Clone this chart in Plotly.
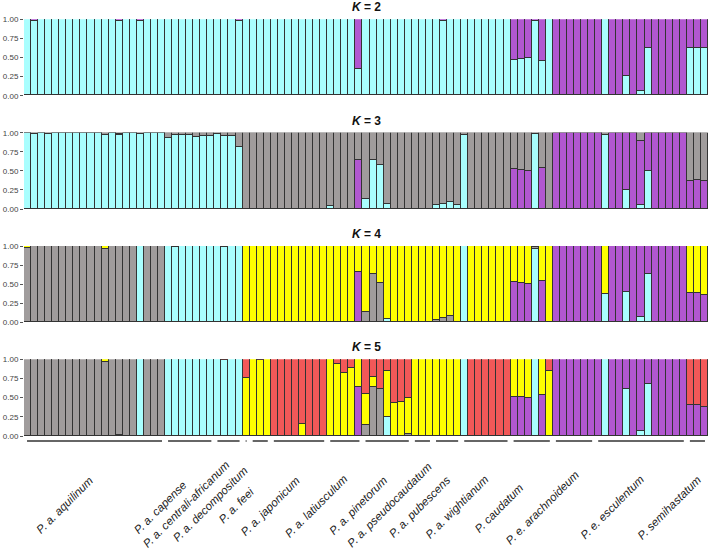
import plotly.graph_objects as go

# ---------------- data ----------------
N = 97
individuals = list(range(N))

group_names = ["P. a. aquilinum", "P. a. capense", "P. a. centrali-africanum", "P. a. decompositum",
               "P. a. feei", "P. a. japonicum", "P. a. latiusculum", "P. a. pinetorum",
               "P. a. pseudocaudatum", "P. a. pubescens", "P. a. wightianum", "P. caudatum",
               "P. e. arachnoideum", "P. e. esculentum", "P. semihastatum"]
group_sizes = [20, 7, 4, 1, 3, 8, 5, 7, 3, 4, 7, 6, 6, 13, 3]

# K = 2  (cyan = remainder)
K2_purple = [0, .02, 0, 0, 0, 0, 0, 0, 0, 0,
             0, 0, 0, .02, 0, 0, .03, 0, 0, 0,
             0, 0, 0, 0, 0, 0, 0, 0, 0, 0,
             .02, 0, 0, 0, 0, 0, 0, 0, 0, 0,
             0, 0, 0, 0, 0, 0, 0, .65, 0, 0,
             0, 0, 0, 0, 0, 0, 0, 0, 0, .02,
             0, 0, 0, 0, 0, 0, 0, 0, 0, .54,
             .53, .515, .02, .555, 0, 1, 1, 1, 1, 1,
             1, 1, 0, 1, 1, .75, 1, .94, .38, 1,
             1, 1, 1, 1, .385, .385, .375]

# K = 3  (gray = remainder)
K3_cyan = [1, .99, 1, .99, 1, 1, 1, 1, 1, 1,
           1, .98, 1, .97, 1, 1, .99, 1, 1, 1,
           .94, .97, .97, .98, .95, .96, .955, .99, .955, .96,
           .82, .01, 0, 0, 0, 0, 0, 0, 0, 0,
           0, 0, 0, .04, 0, 0, 0, 0, .13, .65,
           .58, .07, 0, 0, 0, 0, 0, 0, .06, .07,
           .09, .05, .98, 0, 0, 0, 0, 0, 0, 0,
           0, 0, .99, 0, 0, 0, 0, 0, 0, 0,
           0, 0, .98, 0, 0, .25, 0, .06, .5, 0,
           0, 0, 0, 0, 0, 0, 0]
K3_purple = [0, 0, 0, 0, 0, 0, 0, 0, 0, 0,
             0, 0, 0, .02, 0, 0, 0, 0, 0, 0,
             0, 0, 0, 0, 0, 0, 0, 0, 0, 0,
             0, 0, 0, 0, 0, 0, 0, 0, 0, 0,
             0, 0, 0, 0, 0, 0, 0, .65, 0, 0,
             0, 0, 0, 0, 0, 0, 0, 0, 0, 0,
             0, 0, 0, 0, 0, 0, 0, 0, 0, .53,
             .52, .505, 0, .545, 0, 1, 1, 1, 1, 1,
             1, 1, 0, 1, 1, .75, 1, .835, .5, 1,
             1, 1, 1, 1, .375, .39, .37]

# K = 4  (yellow = remainder)
K4_cyan = [0, 0, 0, 0, 0, 0, 0, 0, 0, 0,
           0, 0, 0, 0, 0, 0, 1, 0, 0, 0,
           1, .99, 1, 1, 1, 1, 1, 1, .99, 1,
           1, 0, 0, 0, 0, 0, 0, 0, 0, 0,
           0, 0, 0, 0, 0, 0, 0, 0, 0, 0,
           0, .04, 0, 0, 0, 0, 0, 0, 0, 0,
           0, 0, 1, 0, 0, 0, 0, 0, 0, 0,
           0, 0, .965, 0, 0, 0, 0, 0, 0, 0,
           0, 0, .37, 0, 0, .40, 0, .065, .63, 0,
           0, 0, 0, 0, 0, 0, 0]
K4_purple = [0, .01, 0, 0, 0, 0, 0, 0, 0, 0,
             0, 0, 0, .01, 0, 0, 0, 0, 0, 0,
             0, 0, 0, 0, 0, 0, 0, 0, 0, 0,
             0, 0, 0, 0, 0, 0, 0, 0, 0, 0,
             0, 0, 0, 0, 0, 0, 0, .66, 0, 0,
             0, 0, 0, 0, 0, 0, 0, 0, 0, 0,
             0, 0, 0, 0, 0, 0, 0, 0, 0, .53,
             .52, .50, 0, .54, 0, 1, 1, 1, 1, 1,
             1, 1, 0, 1, 1, .60, 1, .935, .37, 1,
             1, 1, 1, 1, .39, .39, .36]
K4_gray = [.98, .99, 1, 1, 1, 1, 1, 1, 1, 1,
           1, .96, 1, .99, 1, 1, 0, 1, 1, 1,
           0, 0, 0, 0, 0, 0, 0, 0, 0, 0,
           0, 0, 0, 0, 0, 0, 0, 0, 0, 0,
           0, 0, 0, 0, 0, 0, 0, 0, .13, .63,
           .52, 0, 0, 0, 0, 0, 0, 0, .03, .06,
           .08, .01, 0, 0, 0, 0, 0, 0, 0, 0,
           0, 0, .025, 0, 0, 0, 0, 0, 0, 0,
           0, 0, 0, 0, 0, 0, 0, 0, 0, 0,
           0, 0, 0, 0, 0, 0, 0]

# K = 5  (red = remainder)
K5_cyan = [0, 0, 0, 0, 0, 0, 0, 0, 0, 0,
           0, 0, 0, 0, 0, 0, 1, 0, 0, 0,
           1, 1, 1, 1, 1, 1, 1, 1, .99, 1,
           1, 0, 0, 0, 0, 0, 0, 0, 0, 0,
           0, 0, 0, 0, 0, 0, 0, 0, 0, 0,
           0, .25, 0, 0, 0, 0, 0, 0, 0, 0,
           0, 0, 1, 0, 0, 0, 0, 0, 0, 0,
           0, 0, 1, 0, 0, 0, 0, 0, 0, 0,
           0, 0, 1, 0, 0, .61, 0, .065, .67, 0,
           0, 0, 0, 0, 0, 0, 0]
K5_purple = [0, 0, 0, 0, 0, 0, 0, 0, 0, 0,
             0, 0, 0, .01, 0, 0, 0, 0, 0, 0,
             0, 0, 0, 0, 0, 0, 0, 0, 0, 0,
             0, 0, 0, 0, 0, 0, 0, 0, 0, 0,
             0, 0, 0, 0, 0, 0, 0, .635, 0, 0,
             0, 0, 0, 0, 0, 0, 0, 0, 0, 0,
             0, 0, 0, 0, 0, 0, 0, 0, 0, .51,
             .50, .49, 0, .53, 0, 1, 1, 1, 1, 1,
             1, 1, 0, 1, 1, .39, 1, .935, .33, 1,
             1, 1, 1, 1, .40, .395, .38]
K5_gray = [1, 1, 1, 1, 1, 1, 1, 1, 1, 1,
           1, .96, 1, .99, 1, 1, 0, 1, 1, 1,
           0, 0, 0, 0, 0, 0, 0, 0, 0, 0,
           0, 0, 0, 0, 0, 0, 0, 0, 0, 0,
           0, 0, 0, 0, 0, 0, 0, 0, .14, .64,
           .61, 0, 0, 0, .02, 0, 0, 0, 0, 0,
           0, 0, 0, 0, 0, 0, 0, 0, 0, 0,
           0, 0, 0, 0, 0, 0, 0, 0, 0, 0,
           0, 0, 0, 0, 0, 0, 0, 0, 0, 0,
           0, 0, 0, 0, 0, 0, 0]
K5_yellow = [0, 0, 0, 0, 0, 0, 0, 0, 0, 0,
             0, .04, 0, 0, 0, 0, 0, 0, 0, 0,
             0, 0, 0, 0, 0, 0, 0, 0, 0, 0,
             0, .75, 1, .99, 1, 0, 0, 0, 0, .15,
             0, 0, 0, 1, .93, .82, .88, .365, .41, .12,
             0, .59, .43, .44, .47, 1, 1, 1, 1, 1,
             1, 1, 0, 0, 0, 0, 0, 0, 0, .49,
             .50, .51, 0, .47, .85, 0, 0, 0, 0, 0,
             0, 0, 0, 0, 0, 0, 0, 0, 0, 0,
             0, 0, 0, 0, 0, 0, 0]


def remainder(*parts):
    return [max(0.0, round(1 - sum(p[i] for p in parts), 4)) for i in range(N)]


K2_cyan = remainder(K2_purple)
K3_gray = remainder(K3_cyan, K3_purple)
K4_yellow = remainder(K4_cyan, K4_purple, K4_gray)
K5_red = remainder(K5_cyan, K5_purple, K5_gray, K5_yellow)

# ---------------- style ----------------
COL = {"cyan": "#A9FEFE", "purple": "#B157D0", "gray": "#A09C9C",
       "yellow": "#FFFF00", "red": "#F25858"}
EDGE = "#333333"
W, H = 709, 557


def py(p):  # pixel from top -> paper y
    return 1 - p / H


panels = [
    ("2", [("cyan", K2_cyan), ("purple", K2_purple)], (19.3, 95.7), 7),
    ("3", [("cyan", K3_cyan), ("purple", K3_purple), ("gray", K3_gray)], (132.7, 209), 121),
    ("4", [("cyan", K4_cyan), ("purple", K4_purple), ("gray", K4_gray), ("yellow", K4_yellow)], (246, 322.3), 234),
    ("5", [("cyan", K5_cyan), ("purple", K5_purple), ("gray", K5_gray), ("yellow", K5_yellow), ("red", K5_red)], (359.3, 436), 347),
]

fig = go.Figure()
layout = dict(barmode="stack", bargap=0, width=W, height=H,
              margin=dict(l=24, r=1, t=0, b=0, autoexpand=False),
              plot_bgcolor="white", paper_bgcolor="white", showlegend=False,
              font=dict(family="Liberation Sans, Arial, sans-serif", color="#222"))
annotations = []
shapes = []

for r, (k, comps, (top, bot), ty) in enumerate(panels, start=1):
    xa = "x" if r == 1 else f"x{r}"
    ya = "y" if r == 1 else f"y{r}"
    for name, vals in comps:
        fig.add_trace(go.Bar(x=individuals, y=vals, xaxis=xa, yaxis=ya,
                             marker=dict(color=COL[name], line=dict(color=EDGE, width=1)),
                             width=1, hoverinfo="skip"))
    layout["xaxis" if r == 1 else f"xaxis{r}"] = dict(
        domain=[0, 1], range=[-0.5, N - 0.5], visible=False, anchor=ya, fixedrange=True)
    layout["yaxis" if r == 1 else f"yaxis{r}"] = dict(
        domain=[py(bot), py(top)], range=[0, 1], anchor=xa, automargin=False,
        tickvals=[0, 0.25, 0.5, 0.75, 1], ticktext=["0.00", "0.25", "0.50", "0.75", "1.00"],
        ticks="outside", ticklen=3, tickwidth=1, tickcolor="#555",
        tickfont=dict(size=8, color="#444"), showgrid=False, zeroline=False, showline=False)
    annotations.append(dict(text=f"<b><i>K</i> = {k}</b>", x=0.5, xref="paper",
                            y=py(ty), yref="paper", showarrow=False, xanchor="center",
                            yanchor="middle", font=dict(size=12, color="#111")))

# group underlines and labels
label_offsets = [(-1.5, 1), (-2.5, 6), (1.5, -14), (2, -9), (-7, 13), (1, 1), (3, 0), (1, 1),
                 (9.5, -12), (3, 1), (2.5, 0), (-8, 8), (6, -5), (3.5, 0), (4.5, 0)]
start = 0
for name, size, (dx, dy) in zip(group_names, group_sizes, label_offsets):
    end = start + size - 1
    shapes.append(dict(type="line", xref="x4", yref="paper",
                       x0=start - 0.5 + 0.43, x1=end + 0.5 - 0.43, y0=py(441), y1=py(441),
                       line=dict(color="#333", width=1.5)))
    center = (start + end) / 2
    annotations.append(dict(text=f"<i>{name}</i>", x=center, xref="x4", y=py(472), yref="paper",
                            showarrow=False, textangle=-45, xanchor="right", yanchor="top",
                            xshift=dx + 5, yshift=-dy + 2, font=dict(size=11.5, color="#222")))
    start = end + 1

layout["annotations"] = annotations
layout["shapes"] = shapes
fig.update_layout(**layout)
fig.write_html("out.html", post_script="document.body.style.margin='0px';document.body.style.padding='0px';",
               config={"displayModeBar": False})
